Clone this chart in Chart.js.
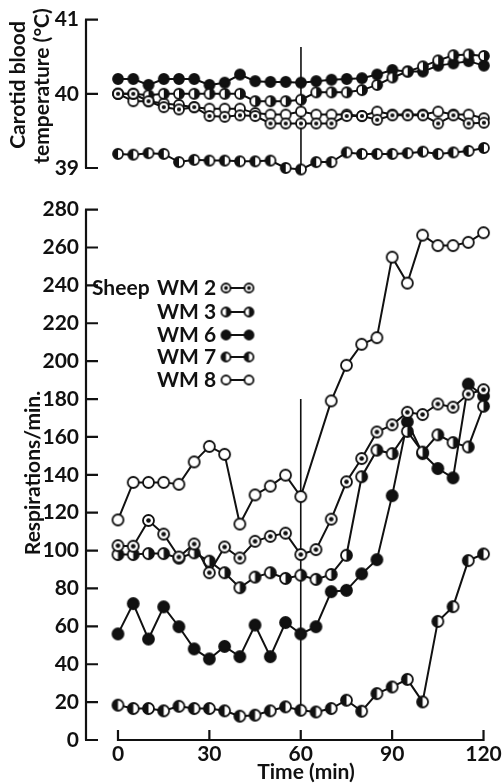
<!DOCTYPE html>
<html><head><meta charset="utf-8">
<script src="https://cdn.jsdelivr.net/npm/chart.js@4.4.1/dist/chart.umd.min.js"></script>
<style>
html,body{margin:0;padding:0;background:#fff;}
#wrap{position:relative;width:504px;height:784px;overflow:hidden;}
canvas{position:absolute;left:0;}
#top{top:0;}
#bot{top:190px;}
</style></head><body>
<div id="wrap">
<canvas id="top" width="504" height="190"></canvas>
<canvas id="bot" width="504" height="594"></canvas>
</div>
<script>
// ---- data ----
const times = [0,5,10,15,20,25,30,35,40,45,50,55,60,65,70,75,80,85,90,95,100,105,110,115,120];
const xTickLabels = [0,30,60,90,120];
const tempTicks = [39,40,41];
const respTicks = [0,20,40,60,80,100,120,140,160,180,200,220,240,260,280];
const seriesNames = ['WM 2','WM 3','WM 6','WM 7','WM 8'];

const tempWM2 = [40.0,40.0,39.9,39.82,39.79,39.82,39.7,39.69,39.71,39.7,39.6,39.6,39.6,39.6,39.6,39.7,39.7,39.65,39.71,39.71,39.71,39.6,39.71,39.6,39.61];
const tempWM3 = [40.0,40.0,39.98,40.0,40.0,40.0,40.0,40.0,40.0,39.9,39.9,39.9,39.92,40.02,40.02,40.02,40.05,40.12,40.22,40.3,40.37,40.45,40.52,40.53,40.51];
const tempWM6 = [40.2,40.2,40.12,40.2,40.2,40.2,40.12,40.15,40.26,40.17,40.16,40.16,40.15,40.17,40.19,40.2,40.21,40.26,40.32,40.3,40.3,40.38,40.41,40.44,40.38];
const tempWM7 = [39.19,39.18,39.2,39.19,39.08,39.11,39.1,39.1,39.09,39.09,39.1,39.0,38.98,39.08,39.08,39.21,39.19,39.19,39.19,39.2,39.22,39.19,39.21,39.23,39.27];
const tempWM8 = [40.0,39.9,39.9,39.87,39.85,39.82,39.8,39.8,39.8,39.74,39.72,39.72,39.76,39.72,39.72,39.72,39.7,39.76,39.72,39.72,39.72,39.76,39.72,39.72,39.67];

const respWM2 = [102.6,102.3,115.9,108.7,96.6,103.5,88.3,101.9,96.1,104.9,107.5,109.2,97.9,100.5,116.6,136.3,148.6,162.6,166.4,173,171.8,177.4,175.7,182.6,184.9];
const respWM3 = [97.9,97.9,98.4,98.4,96,98.8,94.4,88.3,80.4,86,88.3,85.3,87,84.8,87.4,97.5,139,153,151.2,162.9,152,161.1,157,154.7,176.2];
const respWM6 = [56,72,53.3,70.3,59.8,48.1,42.8,49.4,44,60.7,44,62,56,59.8,78.3,79,87.7,95.2,129,168,151.2,143.3,138.4,187.9,181.6];
const respWM7 = [18.4,16.6,16.6,15.4,17.8,16.6,16.6,15.4,12.6,13.1,15.4,17.5,15.7,14.8,16.6,21,15.2,24.5,28,32,20.1,62.6,70.4,94.7,98.2];
const respWM8 = [116.2,136,136,136,135,146.8,155,150.8,114,129.4,134,139.8,128.5,null,179,197.8,208.9,212.4,254.9,241.2,266.5,261,261,262.7,267.8];

const markTime = 60;
const tempMarkLine = [40.63, 39.02];
const respMarkLine = [180, 16];

// ---- styling ----
const INK = '#111';
const FONT = 'Lato, "Open Sans", sans-serif';
const WEIGHT = 'bold';
const kinds = ['dot','right','filled','left','open'];

function marker(kind, d){
  const s = Math.ceil(d + 4);
  const c = document.createElement('canvas'); c.width = s; c.height = s;
  const g = c.getContext('2d'); const cx = s/2, cy = s/2, r = d/2;
  g.lineWidth = 1.8; g.strokeStyle = INK; g.fillStyle = '#fff';
  g.beginPath(); g.arc(cx,cy,r,0,Math.PI*2); g.fill();
  g.fillStyle = INK;
  if (kind === 'filled'){ g.beginPath(); g.arc(cx,cy,r,0,Math.PI*2); g.fill(); }
  if (kind === 'right'){ g.beginPath(); g.moveTo(cx,cy-r); g.arc(cx,cy,r,-Math.PI/2,Math.PI/2); g.closePath(); g.fill(); }
  if (kind === 'left'){ g.beginPath(); g.moveTo(cx,cy+r); g.arc(cx,cy,r,Math.PI/2,Math.PI*1.5); g.closePath(); g.fill(); }
  if (kind === 'dot'){ g.beginPath(); g.arc(cx,cy,r*0.42,0,Math.PI*2); g.fill(); }
  g.beginPath(); g.arc(cx,cy,r,0,Math.PI*2); g.stroke();
  return c;
}

function pts(vals){ return times.map((t,i)=>({x:t, y:vals[i]})); }

function makeDatasets(arrs, d, line){
  const ds = arrs.map((a,i)=>({
    label: seriesNames[i], data: pts(a), borderColor: INK, borderWidth: 2,
    pointStyle: marker(kinds[i], d), pointRadius: 5, pointHoverRadius: 5,
    spanGaps: true, tension: 0, clip: false, fill: false
  }));
  ds.push({label:'mark', data: line.map(v=>({x:markTime, y:v})), borderColor: INK,
    borderWidth: 1.6, pointRadius: 0, clip: false, fill:false});
  return ds;
}

const axesPlugin = {
  id: 'axesPlugin',
  beforeDatasetsDraw(chart, args, o){
    const ctx = chart.ctx, y = chart.scales.y, x = chart.scales.x;
    const ax = chart.chartArea.left;
    ctx.save();
    ctx.strokeStyle = INK; ctx.lineWidth = 2.2; ctx.lineCap = 'butt';
    ctx.beginPath();
    ctx.moveTo(ax, y.getPixelForValue(y.max)); ctx.lineTo(ax, y.getPixelForValue(y.min));
    o.yTicks.forEach(v=>{ const py = y.getPixelForValue(v); ctx.moveTo(ax-1, py); ctx.lineTo(ax+12, py); });
    if (o.xAxis){
      const py = y.getPixelForValue(y.min);
      ctx.moveTo(x.getPixelForValue(xTickLabels[0]), py);
      ctx.lineTo(x.getPixelForValue(xTickLabels[xTickLabels.length-1]), py);
      xTickLabels.forEach(v=>{ const px = x.getPixelForValue(v); ctx.moveTo(px, py+1); ctx.lineTo(px, py-10); });
    }
    ctx.stroke();
    ctx.fillStyle = INK; ctx.font = WEIGHT + ' 21px ' + FONT;
    ctx.textAlign = 'center'; ctx.textBaseline = 'middle';
    (o.yTitles||[]).forEach(t=>{
      ctx.save(); ctx.translate(t.x, t.y); ctx.rotate(-Math.PI/2); ctx.fillText(t.text, 0, 0); ctx.restore();
    });
    if (o.xTitle){
      ctx.fillText(o.xTitle.text, o.xTitle.x, o.xTitle.y);
    }
    if (o.legend){
      const L = o.legend;
      ctx.textAlign = 'left';
      ctx.fillText('Sheep', L.sheepX, L.rows[0]);
      seriesNames.forEach((n,i)=>{
        const ry = L.rows[i];
        ctx.fillText(n, L.textX, ry);
        ctx.beginPath(); ctx.lineWidth = 2;
        ctx.moveTo(L.m1, ry); ctx.lineTo(L.m2, ry); ctx.stroke();
        const img = marker(kinds[i], 9);
        ctx.drawImage(img, L.m1 - img.width/2, ry - img.height/2);
        ctx.drawImage(img, L.m2 - img.width/2, ry - img.height/2);
      });
    }
    ctx.restore();
  }
};

function baseOptions(){
  return {
    responsive: false, animation: false, events: [],
    plugins: { legend: {display:false}, tooltip: {enabled:false} },
  };
}
const tickFont = {family: FONT, size: 21, weight: WEIGHT};

// ---- top chart: temperature ----
const topOpts = baseOptions();
topOpts.layout = { padding: {top: 15, bottom: 22, left: 0, right: 14} };
topOpts.scales = {
  x: { type:'linear', min:-10.5, max:122, display:false },
  y: { type:'linear', min:39, max:41,
       afterBuildTicks: s => { s.ticks = tempTicks.map(v=>({value:v})); },
       afterFit: s => { s.width = 86; },
       grid: {display:false, drawTicks:false}, border: {display:false},
       ticks: { color: INK, font: tickFont, padding: 7 } }
};
topOpts.plugins.axesPlugin = {
  yTicks: tempTicks,
  yTitles: [ {text:'Carotid blood', x:18, y:85}, {text:'temperature (°C)', x:42, y:86} ]
};
new Chart(document.getElementById('top'), {
  type:'line',
  data: { datasets: makeDatasets([tempWM2,tempWM3,tempWM6,tempWM7,tempWM8], 10, tempMarkLine) },
  options: topOpts, plugins: [axesPlugin]
});

// ---- bottom chart: respiration ----
const botOpts = baseOptions();
botOpts.layout = { padding: {top: 16, bottom: 0, left: 0, right: 14} };
botOpts.scales = {
  x: { type:'linear', min:-10.5, max:122,
       afterBuildTicks: s => { s.ticks = xTickLabels.map(v=>({value:v})); },
       afterFit: s => { s.height = 44; },
       grid: {display:false, drawTicks:false}, border: {display:false},
       ticks: { color: INK, font: tickFont, padding: 2, maxRotation:0 } },
  y: { type:'linear', min:0, max:280,
       afterBuildTicks: s => { s.ticks = respTicks.map(v=>({value:v})); },
       afterFit: s => { s.width = 86; },
       grid: {display:false, drawTicks:false}, border: {display:false},
       ticks: { color: INK, font: tickFont, padding: 7 } }
};
botOpts.plugins.axesPlugin = {
  yTicks: respTicks, xAxis: true,
  yTitles: [ {text:'Respirations/min.', x:33, y:283} ],
  xTitle: {text:'Time (min)', x:306, y:582},
  legend: { sheepX: 92, textX: 157, m1: 226, m2: 249, rows: [98,122,145,167,190] }
};
new Chart(document.getElementById('bot'), {
  type:'line',
  data: { datasets: makeDatasets([respWM2,respWM3,respWM6,respWM7,respWM8], 11, respMarkLine) },
  options: botOpts, plugins: [axesPlugin]
});
</script>
</body></html>
